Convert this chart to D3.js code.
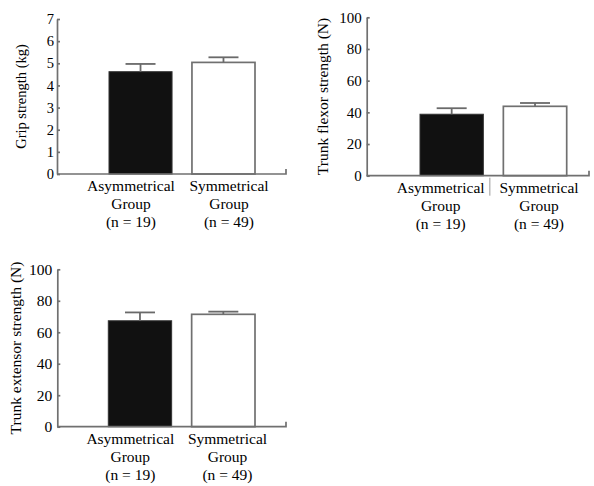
<!DOCTYPE html>
<meta charset="utf-8">
<head lang="en">
    <title></title>
    <script src="https://cdn.jsdelivr.net/npm/d3@7"></script>
    <style type="text/css">
        body { margin: 0; background: #fff; }
        svg text {
            font-family: "Liberation Serif", "Times New Roman", serif;
            fill: #000;
        }
        .axis path, .axis line, .xline {
            fill: none;
            stroke: #707070;
            stroke-width: 1.7;
        }
        .bar-asym { fill: #111; stroke: #333; stroke-width: 1; }
        .bar-sym { fill: #fff; stroke: #707070; stroke-width: 1.7; }
        .err { stroke: #6a6a6a; stroke-width: 1.8; fill: none; }
    </style>
</head>
<body>
<script type="text/javascript">

    // data
    var groups = ["Asymmetrical", "Symmetrical"];
    var groupSizes = ["(n = 19)", "(n = 49)"];

    var gripMean = [4.62, 5.04];
    var gripErr = [0.35, 0.23];
    var gripTicks = [0, 1, 2, 3, 4, 5, 6, 7];

    var flexorMean = [38.8, 43.8];
    var flexorErr = [3.8, 2.1];

    var extensorMean = [67.3, 71.4];
    var extensorErr = [5.3, 1.7];
    var strengthTicks = [0, 20, 40, 60, 80, 100];

    var width = 594;
    var height = 486;

    var svg = d3.select("body")
        .append("svg")
        .attr("width", width)
        .attr("height", height);

    // layout of the three panels
    var panels = [
        {title: "Grip strength (kg)", mean: gripMean, err: gripErr, ticks: gripTicks, max: 7,
         left: 57, right: 286, top: 19, bottom: 174, barIn: [52, 198], labIn: [74, 172],
         titleX: 21, titleSize: 14.5, tickSize: 14.5, tickPad: 3, sep: false},
        {title: "Trunk flexor strength (N)", mean: flexorMean, err: flexorErr, ticks: strengthTicks, max: 100,
         left: 366.7, right: 589, top: 17.3, bottom: 175.7, barIn: [53.3, 200], labIn: [74, 172.3],
         titleX: 322, titleSize: 15.5, tickSize: 15, tickPad: 5, sep: true},
        {title: "Trunk extensor strength (N)", mean: extensorMean, err: extensorErr, ticks: strengthTicks, max: 100,
         left: 57.3, right: 286, top: 269.3, bottom: 426.7, barIn: [51, 197.7], labIn: [73, 170.2],
         titleX: 15, titleSize: 15.5, tickSize: 15.5, tickPad: 5, sep: false}
    ];

    panels.forEach(function (p) {
        var g = svg.append("g");

        var yScale = d3.scaleLinear()
            .domain([0, p.max])
            .range([p.bottom, p.top]);

        var xScale = d3.scaleBand()
            .domain(groups)
            .range([p.left + p.barIn[0], p.left + p.barIn[1]])
            .paddingInner(0.24)
            .paddingOuter(0);

        var labScale = d3.scalePoint()
            .domain(groups)
            .range([p.left + p.labIn[0], p.left + p.labIn[1]]);

        var rows = groups.map(function (d, i) {
            return {name: d, n: groupSizes[i], mean: p.mean[i], err: p.err[i], i: i};
        });

        // bars
        g.selectAll("rect")
            .data(rows)
            .enter()
            .append("rect")
            .attr("class", function (d) { return d.i === 0 ? "bar-asym" : "bar-sym"; })
            .attr("x", function (d) { return xScale(d.name); })
            .attr("y", function (d) { return yScale(d.mean); })
            .attr("width", xScale.bandwidth())
            .attr("height", function (d) { return yScale(0) - yScale(d.mean); });

        // error bars (upper only)
        rows.forEach(function (d) {
            var cx = xScale(d.name) + xScale.bandwidth() / 2;
            g.append("line")
                .attr("class", "err")
                .attr("x1", cx).attr("x2", cx)
                .attr("y1", yScale(d.mean)).attr("y2", yScale(d.mean + d.err));
            g.append("line")
                .attr("class", "err")
                .attr("x1", cx - 15).attr("x2", cx + 15)
                .attr("y1", yScale(d.mean + d.err)).attr("y2", yScale(d.mean + d.err));
        });

        // y axis, ticks pointing inward
        var yAxis = d3.axisLeft(yScale)
            .tickValues(p.ticks)
            .tickSizeInner(-3)
            .tickSizeOuter(0)
            .tickPadding(p.tickPad)
            .tickFormat(d3.format("d"));

        var Y = g.append("g")
            .attr("class", "axis")
            .attr("transform", "translate(" + p.left + ",0)")
            .call(yAxis);
        Y.selectAll("text")
            .attr("font-size", p.tickSize + "px")
            .style("font-family", "'Liberation Serif', serif")
            .attr("fill", "#000");

        // x axis line with small upturn at the end
        g.append("path")
            .attr("class", "xline")
            .attr("d", "M" + p.left + "," + yScale(0) + "H" + p.right + "V" + (yScale(0) - 5));

        if (p.sep) {
            g.append("line")
                .attr("x1", (labScale(groups[0]) + labScale(groups[1])) / 2)
                .attr("x2", (labScale(groups[0]) + labScale(groups[1])) / 2)
                .attr("y1", yScale(0) + 2)
                .attr("y2", yScale(0) + 20)
                .attr("stroke", "#9a9a9a")
                .attr("stroke-width", 1);
        }

        // category labels
        rows.forEach(function (d) {
            var lines = [d.name, "Group", d.n];
            lines.forEach(function (t, k) {
                g.append("text")
                    .attr("x", labScale(d.name))
                    .attr("y", yScale(0) + 17 + k * 18.2)
                    .attr("text-anchor", "middle")
                    .attr("font-size", "15.5px")
                    .text(t);
            });
        });

        // y title
        g.append("text")
            .attr("transform", "translate(" + p.titleX + "," + (p.top + p.bottom) / 2 + ") rotate(-90)")
            .attr("text-anchor", "middle")
            .attr("dominant-baseline", "central")
            .attr("font-size", p.titleSize + "px")
            .text(p.title);
    });

</script>
</body>
